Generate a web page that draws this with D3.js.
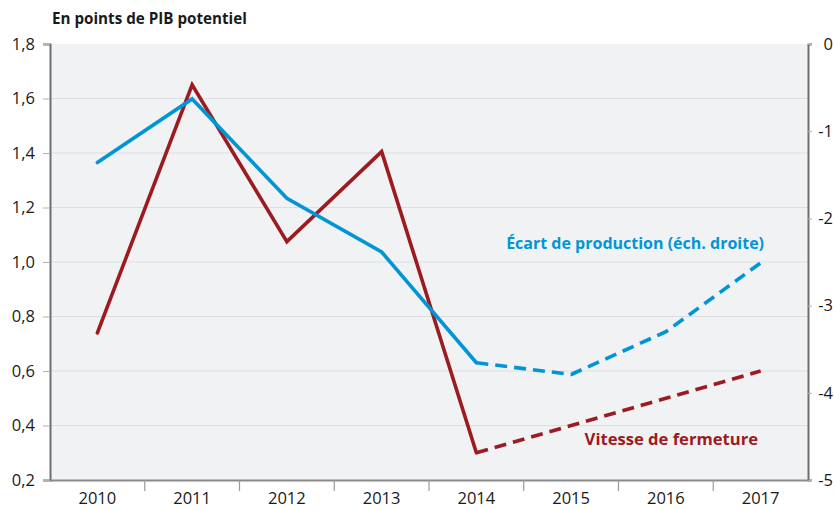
<!DOCTYPE html>
<html><head><meta charset="utf-8">
<script src="https://cdn.jsdelivr.net/npm/d3@7"></script>
<style>
body{margin:0;background:#fff;}
svg{display:block;font-family:"Open Sans",sans-serif;}
</style></head>
<body>
<svg id="chart" width="834" height="510"></svg>
<script>
const years = ["2010","2011","2012","2013","2014","2015","2016","2017"];
// Vitesse de fermeture (left axis, points de PIB potentiel)
const vitesse = [0.74, 1.65, 1.075, 1.405, 0.30, 0.40, 0.50, 0.60];
// Écart de production (right axis)
const ecart = [-1.36, -0.63, -1.77, -2.385, -3.655, -3.79, -3.30, -2.51];
const leftTicks = [0.2,0.4,0.6,0.8,1.0,1.2,1.4,1.6,1.8];
const rightTicks = [0,-1,-2,-3,-4,-5];
const lastActual = 4; // index of 2014: dashed afterwards

const svg = d3.select("#chart");
const L = 50, R = 808, T = 44, B = 480;
const fmt = d => d3.format(".1f")(d).replace(".", ",");

const x = d3.scaleBand().domain(years).range([L, R]);
const yL = d3.scaleLinear().domain([0.2, 1.8]).range([B, T]);
const yR = d3.scaleLinear().domain([-5, 0]).range([B, T]);

svg.append("rect").attr("x", L).attr("y", T).attr("width", R - L).attr("height", B - T).attr("fill", "#f1f2f4");

// gridlines
svg.append("g").selectAll("line").data(leftTicks.slice(1, -1)).join("line")
  .attr("x1", L).attr("x2", R).attr("y1", d => yL(d)).attr("y2", d => yL(d))
  .attr("stroke", "#dcdde0").attr("stroke-width", 1.2);

// left axis
const gL = svg.append("g").attr("transform", `translate(${L},0)`)
  .call(d3.axisLeft(yL).tickValues(leftTicks).tickFormat(fmt).tickSize(7).tickPadding(8));
gL.select(".domain").attr("stroke", "#6e6e6e").attr("stroke-width", 2);
gL.selectAll(".tick line").attr("stroke", "#b0b0b0");
gL.selectAll("text").attr("font-size", 16.5).attr("fill", "#1a1a1a").attr("font-family", "Open Sans");

// right axis
const gR = svg.append("g").attr("transform", `translate(${R},0)`)
  .call(d3.axisRight(yR).tickValues(rightTicks).tickFormat(d => d === 0 ? "0" : "-" + Math.abs(d)).tickSize(4).tickPadding(8));
gR.select(".domain").attr("stroke", "#6e6e6e").attr("stroke-width", 2);
gR.selectAll(".tick line").attr("stroke", "#b0b0b0");
gR.selectAll("text").attr("font-size", 16.5).attr("fill", "#1a1a1a").attr("font-family", "Open Sans")
  .attr("text-anchor", "end").attr("x", 833 - R);

// bottom axis
const gB = svg.append("g").attr("transform", `translate(0,${B})`)
  .call(d3.axisBottom(x).tickSize(0).tickPadding(12));
gB.select(".domain").attr("stroke", "#8a8a8a").attr("stroke-width", 2);
gB.selectAll("text").attr("font-size", 16.5).attr("fill", "#1a1a1a").attr("font-family", "Open Sans");
svg.append("g").selectAll("line").data(years.slice(1)).join("line")
  .attr("x1", d => x(d)).attr("x2", d => x(d)).attr("y1", B).attr("y2", B + 11)
  .attr("stroke", "#9a9a9a").attr("stroke-width", 1.2);

// lines
const cx = d => x(d) + x.bandwidth() / 2;
function drawSeries(vals, scale, color) {
  const pts = vals.map((v, i) => [cx(years[i]), scale(v)]);
  const line = d3.line();
  svg.append("path").attr("d", line(pts.slice(0, lastActual + 1)))
    .attr("fill", "none").attr("stroke", color).attr("stroke-width", 3.6)
    .attr("stroke-linejoin", "miter").attr("stroke-linecap", "round");
  svg.append("path").attr("d", line(pts.slice(lastActual)))
    .attr("fill", "none").attr("stroke", color).attr("stroke-width", 3.6)
    .attr("stroke-dasharray", "12,7").attr("stroke-linejoin", "round");
}
const blue = "#0096d6", red = "#9c1b20";
drawSeries(vitesse, yL, red);
drawSeries(ecart, yR, blue);

// labels
svg.append("text").attr("x", 52).attr("y", 24).text("En points de PIB potentiel")
  .attr("font-size", 15.2).attr("font-weight", "bold").attr("fill", "#1a1a1a");
svg.append("text").attr("x", 764).attr("y", 249).attr("text-anchor", "end")
  .text("Écart de production (éch. droite)").attr("font-size", 16).attr("font-weight", "bold").attr("fill", blue);
svg.append("text").attr("x", 758).attr("y", 445).attr("text-anchor", "end")
  .text("Vitesse de fermeture").attr("font-size", 16.6).attr("font-weight", "bold").attr("fill", red);
</script>
</body></html>
